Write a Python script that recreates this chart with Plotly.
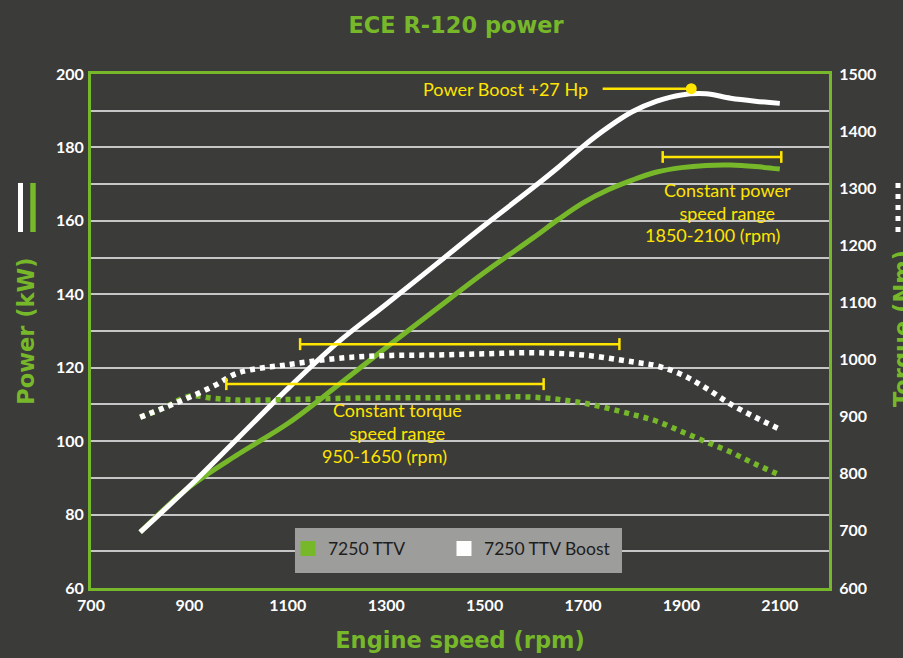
import plotly.graph_objects as go

BG = "#3b3b39"
GREEN = "#76b82a"
YELLOW = "#ffe500"
GRID = "#c6c6c6"
WHITE = "#ffffff"
FONT_B = "Lato"
FONT_T = "DejaVu Sans"

# ---- data ----
rpm = [800, 900, 1000, 1100, 1200, 1300, 1400, 1500, 1600, 1650, 1700, 1750, 1800, 1850, 1900, 1950, 2000, 2050, 2100]
power_ttv = [75.2, 87.5, 96.5, 104.8, 115.0, 125.5, 135.8, 146.0, 155.5, 160.4, 164.9, 168.4, 171.1, 173.3, 174.5, 175.1, 175.2, 174.8, 174.1]
power_boost = [75.2, 87.7, 101.0, 114.3, 126.7, 137.3, 148.0, 158.8, 169.2, 174.6, 180.3, 185.4, 189.7, 192.6, 194.3, 194.6, 193.4, 192.6, 192.0]

rpm_torque = [800, 850, 900, 950, 1000, 1100, 1200, 1300, 1400, 1500, 1600, 1700, 1800, 1850, 1900, 1950, 2000, 2050, 2100]
torque_ttv = [899, 916, 936, 932, 929, 930, 932, 933, 933, 934, 934, 924, 904, 892, 874, 856, 838, 817, 798]
torque_boost = [899, 916, 934, 954, 977, 991, 1002, 1007, 1008, 1010, 1012, 1008, 996, 989, 974, 950, 922, 899, 878]

series_names = ["7250 TTV", "7250 TTV Boost"]
x_ticks = [700, 900, 1100, 1300, 1500, 1700, 1900, 2100]
x_title = "Engine speed (rpm)"
y_title = "Power (kW)"
y2_title = "Torque (Nm)"

# annotation data
boost_peak = (1920, 196.0)
boost_label = "Power Boost +27 Hp"
boost_label_pos = (1715, 195.8)
boost_line = (1740, 1912)

power_range = (1862, 2103, 177.4)         # rpm from, rpm to, kW
torque_range_boost = (1125, 1774, 1027)   # rpm from, rpm to, Nm
torque_range_ttv = (975, 1620, 957)

power_text = [("Constant power<br>speed range", 1994, 165.3), ("1850-2100 (rpm)", 1964, 156.2)]
torque_text = [("Constant torque<br>speed range", 1322, 891), ("950-1650 (rpm)", 1297, 832)]

fig = go.Figure()

line_w = 5
fig.add_trace(go.Scatter(x=rpm_torque, y=torque_ttv, yaxis="y2", mode="lines",
                         line=dict(color=GREEN, width=5.5, dash="5px,5px", shape="spline"),
                         showlegend=False, hoverinfo="skip"))
fig.add_trace(go.Scatter(x=rpm_torque, y=torque_boost, yaxis="y2", mode="lines",
                         line=dict(color=WHITE, width=5.5, dash="5px,5px", shape="spline"),
                         showlegend=False, hoverinfo="skip"))
fig.add_trace(go.Scatter(x=rpm, y=power_ttv, mode="lines",
                         line=dict(color=GREEN, width=line_w, shape="spline"),
                         showlegend=False))
fig.add_trace(go.Scatter(x=rpm, y=power_boost, mode="lines",
                         line=dict(color=WHITE, width=line_w, shape="spline"),
                         showlegend=False))

# legend entries (one legend box per entry, to place them like the reference)
for name, col, lg in zip(series_names, [GREEN, WHITE], ["legend", "legend2"]):
    fig.add_trace(go.Scatter(x=[None], y=[None], mode="markers", name=name, legend=lg,
                             marker=dict(symbol="square", size=15, color=col, line=dict(width=0))))

# boost peak dot
fig.add_trace(go.Scatter(x=[boost_peak[0]], y=[boost_peak[1]], mode="markers",
                         marker=dict(color=YELLOW, size=11), showlegend=False, hoverinfo="skip"))

shapes = []
# pointer line to boost peak
shapes.append(dict(type="line", xref="x", yref="y", x0=boost_line[0], x1=boost_line[1],
                   y0=boost_peak[1], y1=boost_peak[1], line=dict(color=YELLOW, width=2.5)))


def bracket(x0, x1, yv, yref, cap):
    out = [dict(type="line", xref="x", yref=yref, x0=x0, x1=x1, y0=yv, y1=yv,
                line=dict(color=YELLOW, width=2.5))]
    for xv in (x0, x1):
        out.append(dict(type="line", xref="x", yref=yref, x0=xv, x1=xv, y0=yv - cap, y1=yv + cap,
                        line=dict(color=YELLOW, width=2.5)))
    return out


shapes += bracket(power_range[0], power_range[1], power_range[2], "y", 1.6)
shapes += bracket(torque_range_boost[0], torque_range_boost[1], torque_range_boost[2], "y2", 10.5)
shapes += bracket(torque_range_ttv[0], torque_range_ttv[1], torque_range_ttv[2], "y2", 10.5)

# legend background box
shapes.append(dict(type="rect", xref="paper", yref="paper", x0=0.2764, x1=0.7195, y0=0.0292, y1=0.1167,
                   fillcolor="#9d9d9b", line=dict(width=0), layer="above"))

# title-side series markers
shapes.append(dict(type="line", xref="paper", yref="paper", x0=-0.0955, x1=-0.0955, y0=0.6926, y1=0.788,
                   line=dict(color=WHITE, width=5)))
shapes.append(dict(type="line", xref="paper", yref="paper", x0=-0.0786, x1=-0.0786, y0=0.6926, y1=0.788,
                   line=dict(color=GREEN, width=5.5)))
shapes.append(dict(type="line", xref="paper", yref="paper", x0=1.0935, x1=1.0935, y0=0.6926, y1=0.788,
                   line=dict(color=WHITE, width=5, dash="5px,6px")))
shapes.append(dict(type="line", xref="paper", yref="paper", x0=1.110, x1=1.110, y0=0.6926, y1=0.788,
                   line=dict(color=GREEN, width=5, dash="5px,6px")))

tickfont = dict(family=FONT_B, size=16, color=WHITE, weight="bold")
titlefont = dict(family=FONT_T, size=22.5, color=GREEN, weight="bold")
legfont = dict(family="Lato", size=17.5, color="#1e1e1e")

ann_font = dict(family="Lato", size=18, color=YELLOW)
annotations = []
annotations.append(dict(x=boost_label_pos[0], y=boost_label_pos[1], xref="x", yref="y", text=boost_label,
                        showarrow=False, xanchor="right", yanchor="middle", font=ann_font))
for txt, xv, yv in power_text:
    annotations.append(dict(x=xv, y=yv, xref="x", yref="y", text=txt, showarrow=False, align="center",
                            xanchor="center", yanchor="middle", font=ann_font))
for txt, xv, yv in torque_text:
    annotations.append(dict(x=xv, y=yv, xref="x", yref="y2", text=txt, showarrow=False, align="center",
                            xanchor="center", yanchor="middle", font=ann_font))
# right axis title (runs past the right edge of the picture, as in the reference)
annotations.append(dict(x=1.0989, y=0.5058, xref="paper", yref="paper", text=y2_title, textangle=-90,
                        showarrow=False, xanchor="center", yanchor="middle", font=titlefont))

fig.update_layout(
    width=903, height=658,
    paper_bgcolor=BG, plot_bgcolor=BG,
    margin=dict(l=91, r=74, t=74, b=70, autoexpand=False),
    title=dict(text="ECE R-120 power", x=0.505, xanchor="center", y=0.962, yanchor="middle",
               font=dict(family=FONT_T, size=22.5, color=GREEN, weight="bold")),
    xaxis=dict(range=[700, 2200], tickvals=x_ticks, showgrid=False, zeroline=False, automargin=False,
               showline=True, linecolor=GREEN, linewidth=3, mirror=True,
               ticks="outside", ticklen=1, tickcolor=BG, tickfont=tickfont,
               title=dict(text=x_title, font=titlefont, standoff=20)),
    yaxis=dict(range=[60, 200], dtick=20, tick0=60, showgrid=True, gridcolor=GRID, gridwidth=1.8,
               minor=dict(dtick=10, showgrid=True, gridcolor=GRID, gridwidth=1.8), automargin=False,
               zeroline=False, showline=True, linecolor=GREEN, linewidth=3, mirror=True,
               ticks="outside", ticklen=1, tickcolor=BG, tickfont=tickfont,
               title=dict(text=y_title, font=titlefont, standoff=16)),
    yaxis2=dict(range=[600, 1500], dtick=100, overlaying="y", side="right", showgrid=False, automargin=False,
                zeroline=False, showline=True, linecolor=GREEN, linewidth=3,
                ticks="outside", ticklen=4, tickcolor=BG, tickfont=tickfont),
    legend=dict(orientation="h", x=0.2669, xanchor="left", y=0.0768, yanchor="middle",
                bgcolor="rgba(0,0,0,0)", font=legfont, itemclick=False, itemdoubleclick=False),
    legend2=dict(orientation="h", x=0.4783, xanchor="left", y=0.0768, yanchor="middle",
                 bgcolor="rgba(0,0,0,0)", font=legfont, itemclick=False, itemdoubleclick=False),
    shapes=shapes,
    annotations=annotations,
    showlegend=True,
)

# remove the page's default body margin so the figure fills the window exactly
fig.write_html("out.html", config={"displayModeBar": False}, post_script=(
    "document.documentElement.style.margin='0';document.body.style.margin='0';"
    "document.body.style.overflow='hidden';document.body.style.background='" + BG + "';"))
